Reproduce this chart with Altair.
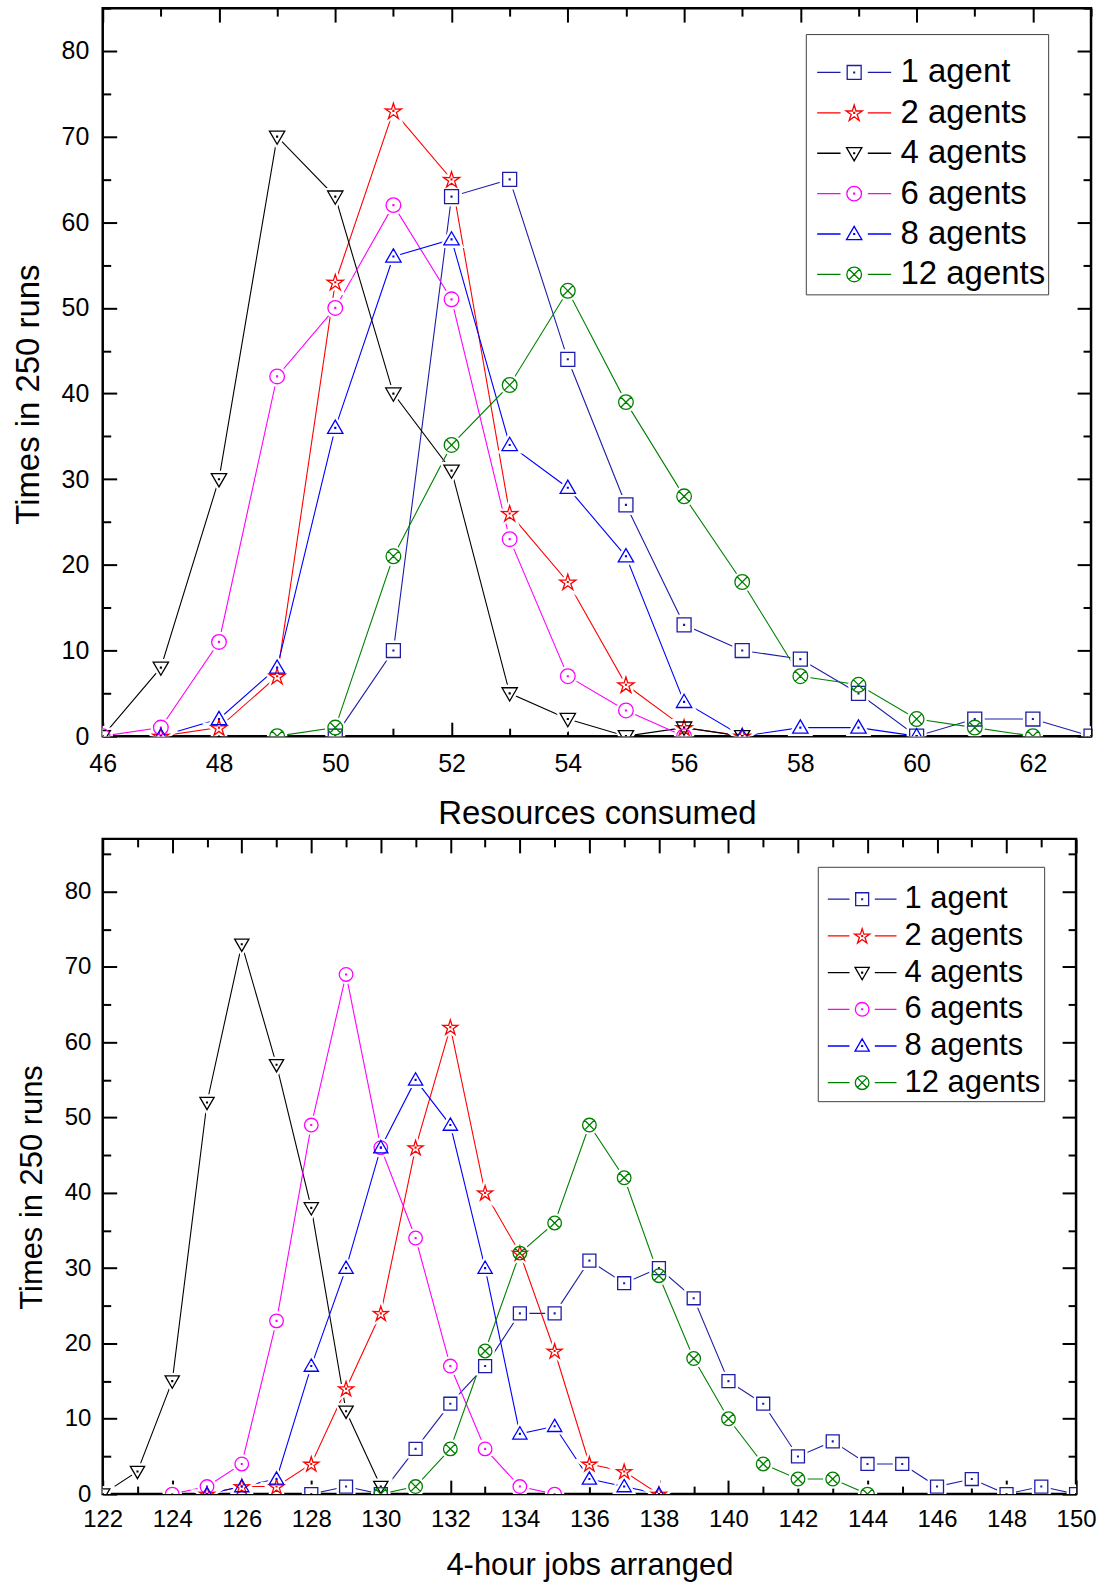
import math
import altair as alt
import pandas as pd

FONT = "Liberation Sans"

SERIES = ["1 agent", "2 agents", "4 agents", "6 agents", "8 agents", "12 agents"]
COLORS = ["#1c1ca8", "#ff0000", "#000000", "#ff00ff", "#0000ff", "#008000"]

# ---------- top panel: Resources consumed ----------
res_x_1 = [50, 51, 52, 53, 54, 55, 56, 57, 58, 59, 60, 61, 62, 63]
res_y_1 = [0, 10, 63, 65, 44, 27, 13, 10, 9, 5, 0, 2, 2, 0]
res_x_2 = [47, 48, 49, 50, 51, 52, 53, 54, 55, 56, 57]
res_y_2 = [0, 1, 7, 53, 73, 65, 26, 18, 6, 1, 0]
res_x_4 = [46, 47, 48, 49, 50, 51, 52, 53, 54, 55, 56, 57]
res_y_4 = [0, 8, 30, 70, 63, 40, 31, 5, 2, 0, 1, 0]
res_x_6 = [46, 47, 48, 49, 50, 51, 52, 53, 54, 55, 56]
res_y_6 = [0, 1, 11, 42, 50, 62, 51, 23, 7, 3, 0]
res_x_8 = [47, 48, 49, 50, 51, 52, 53, 54, 55, 56, 57, 58, 59, 60]
res_y_8 = [0, 2, 8, 36, 56, 58, 34, 29, 21, 4, 0, 1, 1, 0]
res_x_12 = [49, 50, 51, 52, 53, 54, 55, 56, 57, 58, 59, 60, 61, 62]
res_y_12 = [0, 1, 21, 34, 41, 52, 39, 28, 18, 7, 6, 2, 1, 0]

# ---------- bottom panel: 4-hour jobs arranged ----------
job_x_1 = [128, 129, 130, 131, 132, 133, 134, 135, 136, 137, 138, 139, 140,
           141, 142, 143, 144, 145, 146, 147, 148, 149, 150]
job_y_1 = [0, 1, 0, 6, 12, 17, 24, 24, 31, 28, 30, 26, 15, 12, 5, 7, 4, 4, 1, 2, 0, 1, 0]
job_x_2 = [125, 126, 127, 128, 129, 130, 131, 132, 133, 134, 135, 136, 137, 138]
job_y_2 = [0, 1, 1, 4, 14, 24, 46, 62, 40, 32, 19, 4, 3, 0]
job_x_4 = [122, 123, 124, 125, 126, 127, 128, 129, 130]
job_y_4 = [0, 3, 15, 52, 73, 57, 38, 11, 1]
job_x_6 = [124, 125, 126, 127, 128, 129, 130, 131, 132, 133, 134, 135]
job_y_6 = [0, 1, 4, 23, 49, 69, 46, 34, 17, 6, 1, 0]
job_x_8 = [125, 126, 127, 128, 129, 130, 131, 132, 133, 134, 135, 136, 137, 138]
job_y_8 = [0, 1, 2, 17, 30, 46, 55, 49, 30, 8, 9, 2, 1, 0]
job_x_12 = [130, 131, 132, 133, 134, 135, 136, 137, 138, 139, 140, 141, 142, 143, 144]
job_y_12 = [0, 1, 6, 19, 32, 36, 49, 42, 29, 18, 10, 4, 2, 2, 0]

TOP_X_LABELS = [46, 48, 50, 52, 54, 56, 58, 60, 62]
TOP_X_TICKS = [46, 47, 48, 49, 50, 51, 52, 53, 54, 55, 56, 57, 58, 59, 60, 61, 62, 63]
BOT_X_LABELS = [122, 124, 126, 128, 130, 132, 134, 136, 138, 140, 142, 144, 146, 148, 150]
BOT_X_TICKS = [122, 123, 124, 125, 126, 127, 128, 129, 130, 131, 132, 133, 134, 135, 136,
               137, 138, 139, 140, 141, 142, 143, 144, 145, 146, 147, 148, 149, 150]
Y_LABELS = [0, 10, 20, 30, 40, 50, 60, 70, 80]
Y_TICKS = [0, 5, 10, 15, 20, 25, 30, 35, 40, 45, 50, 55, 60, 65, 70, 75, 80, 85]


def long_df(pairs):
    rows = []
    for name, xs, ys in pairs:
        for a, b in zip(xs, ys):
            rows.append({"series": name, "x": a, "y": b})
    return pd.DataFrame(rows)


top_df = long_df([
    ("1 agent", res_x_1, res_y_1), ("2 agents", res_x_2, res_y_2),
    ("4 agents", res_x_4, res_y_4), ("6 agents", res_x_6, res_y_6),
    ("8 agents", res_x_8, res_y_8), ("12 agents", res_x_12, res_y_12)])
bot_df = long_df([
    ("1 agent", job_x_1, job_y_1), ("2 agents", job_x_2, job_y_2),
    ("4 agents", job_x_4, job_y_4), ("6 agents", job_x_6, job_y_6),
    ("8 agents", job_x_8, job_y_8), ("12 agents", job_x_12, job_y_12)])

# ---------- marker shapes (unit box -1..1) ----------
DOT = "M-0.06,-0.06H0.06V0.06H-0.06Z"
CIRC = "M1.05,0A1.05,1.05 0 1,1 -1.05,0A1.05,1.05 0 1,1 1.05,0Z"


def star_path(R=1.22, r=0.45):
    pts = []
    for i in range(10):
        a = -math.pi / 2 + i * math.pi / 5
        rad = R if i % 2 == 0 else r
        pts.append((rad * math.cos(a), rad * math.sin(a) + 0.1))
    return "M" + "L".join(f"{px:.3f},{py:.3f}" for px, py in pts) + "Z"


MARKERS = [
    "M-1,-1H1V1H-1Z" + DOT,
    star_path() + DOT,
    "M-1.1,-0.8L1.1,-0.8L0,1.1Z" + DOT,
    CIRC + DOT,
    "M0,-1.1L1.1,0.8L-1.1,0.8Z" + DOT,
    CIRC + "M-0.74,-0.74L0.74,0.74M-0.74,0.74L0.74,-0.74",
]
SIDE = "M-5.3,0H-1.95M1.95,0H5.3"
LEGEND_MARKERS = [SIDE + m for m in MARKERS]


def tick_axis(orient, offset, values, test):
    return alt.Axis(orient=orient, offset=offset, values=values, labels=False,
                    domain=False, grid=False, ticks=True, tickColor="black",
                    tickWidth=2,
                    tickSize={"condition": {"test": test, "value": 14}, "value": 8})


def panel(df, xdom, ydom, W, H, xlabels, xticks, xtitle, lab_fs, title_fs,
          xlab_pad, xtitle_pad, ylab_pad, ytitle_pad, ytitle_y, msize,
          leg_x, leg_y, leg_fs, leg_sym_off, leg_lab_off, leg_row_pad, leg_title_pad):
    xs = alt.Scale(domain=xdom, nice=False, zero=False)
    ys = alt.Scale(domain=ydom, nice=False, zero=False)
    cs = alt.Scale(domain=SERIES, range=COLORS)
    ss = alt.Scale(domain=SERIES, range=MARKERS)
    xtest = "datum.value % 2 === 0"
    ytest = "datum.value % 10 === 0"

    lines = alt.Chart(df).mark_line(strokeWidth=1.1, clip=True).encode(
        x=alt.X("x:Q", scale=xs, title=xtitle,
                axis=alt.Axis(values=xlabels, ticks=False, domain=False, grid=False,
                              labelFont=FONT, labelFontSize=lab_fs, labelColor="black",
                              labelPadding=xlab_pad, labelFlush=False,
                              titleFont=FONT, titleFontSize=title_fs,
                              titleFontWeight="normal", titleColor="black",
                              titlePadding=xtitle_pad)),
        y=alt.Y("y:Q", scale=ys, title="Times in 250 runs",
                axis=alt.Axis(values=Y_LABELS, ticks=False, domain=False, grid=False,
                              labelFont=FONT, labelFontSize=lab_fs, labelColor="black",
                              labelPadding=ylab_pad, labelFlush=False,
                              titleFont=FONT, titleFontSize=title_fs,
                              titleFontWeight="normal", titleColor="black",
                              titlePadding=ytitle_pad, titleY=ytitle_y)),
        color=alt.Color("series:N", scale=cs, legend=None),
        order=alt.Order("x:Q"),
    )

    halo = alt.Chart(df).mark_point(filled=True, fill="white", stroke="white",
                                    strokeWidth=6, opacity=1, size=msize,
                                    clip=True).encode(
        x=alt.X("x:Q", scale=xs, title=None,
                axis=tick_axis("top", -H, xticks, xtest)),
        y=alt.Y("y:Q", scale=ys, title=None,
                axis=tick_axis("right", -W, Y_TICKS, ytest)),
        shape=alt.Shape("series:N", scale=ss, legend=None),
    )

    pts = alt.Chart(df).mark_point(filled=False, opacity=1, strokeWidth=1.3,
                                   size=msize, clip=True).encode(
        x=alt.X("x:Q", scale=xs, title=None,
                axis=tick_axis("bottom", -H, xticks, xtest)),
        y=alt.Y("y:Q", scale=ys, title=None,
                axis=tick_axis("left", -W, Y_TICKS, ytest)),
        color=alt.Color("series:N", scale=cs, legend=None),
        shape=alt.Shape("series:N", scale=ss, legend=None),
    )

    def leg():
        return alt.Legend(orient="none", legendX=leg_x, legendY=leg_y,
                          direction="vertical", title=" ", titleFontSize=10,
                          titlePadding=leg_title_pad, padding=3,
                          strokeColor="#404040", fillColor="white",
                          labelFont=FONT, labelFontSize=leg_fs, labelColor="black",
                          labelLimit=400, symbolSize=msize, symbolStrokeWidth=1.3,
                          symbolOffset=leg_sym_off, labelOffset=leg_lab_off,
                          rowPadding=leg_row_pad)

    legend_layer = alt.Chart(df).transform_filter("false").mark_point(
        filled=False, opacity=1, strokeWidth=1.3, size=msize).encode(
        color=alt.Color("series:N", scale=cs, legend=leg()),
        shape=alt.Shape("series:N",
                        scale=alt.Scale(domain=SERIES, range=LEGEND_MARKERS),
                        legend=leg()),
    )

    return alt.layer(lines, halo, pts, legend_layer).resolve_scale(
        color="independent", shape="independent"
    ).resolve_axis(x="independent", y="independent").properties(width=W, height=H)


top = panel(top_df, [46, 63], [0, 85], 991, 730, TOP_X_LABELS, TOP_X_TICKS,
            "Resources consumed", 25, 33, 15, 22, 14, 16, 387, 196,
            705, 26, 33, 29, 30, 6.5, 9)
bottom = panel(bot_df, [122, 150], [0, 87], 976, 657, BOT_X_LABELS, BOT_X_TICKS,
               "4-hour jobs arranged", 24, 31, 13, 20, 12, 16, 349, 169,
               717, 28, 31, 26, 27, 4.8, 4)

chart = alt.vconcat(top, bottom, spacing=3).properties(
    padding={"left": 10, "top": 3, "right": 4, "bottom": 2},
    background="white",
).configure_view(stroke="black", strokeWidth=2.5)

chart.save("out.html", embed_options={"renderer": "svg", "actions": False})
